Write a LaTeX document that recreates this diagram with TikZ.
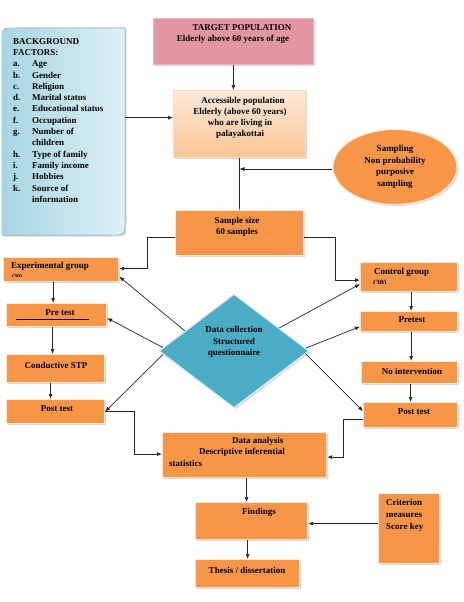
\documentclass[tikz,border=0pt]{standalone}
\usepackage{fontspec}
\setmainfont{Liberation Serif}
\usepackage{tikz}
\usetikzlibrary{shapes.geometric,arrows.meta,positioning,calc,shadows}
\definecolor{boxorange}{RGB}{247,150,70}
\definecolor{boxcream}{RGB}{253,233,217}
\definecolor{diamblue}{RGB}{75,172,198}
\definecolor{bgblue}{RGB}{168,214,229}
\definecolor{bglight}{RGB}{222,240,246}
\definecolor{popred}{RGB}{226,150,162}
\definecolor{poplight}{RGB}{246,212,216}
\definecolor{accpeach}{RGB}{250,196,150}
\newcommand{\bgi}[1]{\makebox[19pt][l]{#1}}

\begin{document}
\begin{tikzpicture}[x=1pt, y=-1pt,
    font=\fontsize{9}{11.5}\selectfont\bfseries,
    sz/.style 2 args={minimum width=#1pt, minimum height=#2pt},
    shade/.style={drop shadow={shadow xshift=1.5pt, shadow yshift=-1.5pt, opacity=0.3}},
    fbox/.style={rectangle, draw=boxcream, line width=1.2pt, fill=boxorange,
        anchor=north west, inner sep=0pt, shade},
    txt/.style={inner sep=0pt, align=center},
    link/.style={line width=0.7pt, draw=black!85},
    >={Latex[length=5pt,width=4pt]}
]
\useasboundingbox (0,0) rectangle (463,602);

% background factors
\node[anchor=north west, sz={123}{207}, inner sep=0pt] (bgfact) at (2,28) {};
\filldraw[draw=bgblue!80!gray, line width=0.8pt, left color=bgblue, right color=bglight, shade]
    (2,235) -- (2,42) .. controls (2,28) .. (16,28) -- (125,28) -- (125,221)
    .. controls (125,235) .. (111,235) -- cycle;
\node[txt, anchor=north west, align=left, font=\fontsize{9}{11.3}\selectfont\bfseries] (bgtext) at (13,38)
    {BACKGROUND\\FACTORS:\\\bgi{a.}Age\\\bgi{b.}Gender\\\bgi{c.}Religion\\\bgi{d.}Marital status\\
     \bgi{e.}Educational status\\\bgi{f.}Occupation\\\bgi{g.}Number of\\\bgi{}children\\
     \bgi{h.}Type of family\\\bgi{i.}Family income\\\bgi{j.}Hobbies\\\bgi{k.}Source of\\\bgi{}information};

% top of the flow
\node[rectangle, anchor=north west, inner sep=0pt, sz={160}{46}, draw=popred!70!white, line width=0.8pt,
      top color=popred, middle color=poplight, bottom color=popred, shade] (target) at (153,18) {};
\node[txt] (targettxt) at (233,34) {\hspace*{18pt}TARGET POPULATION\\Elderly above 60 years of age};

\node[rectangle, anchor=north west, inner sep=0pt, sz={132}{67}, draw=boxorange!35!white, line width=1pt,
      top color=boxcream, bottom color=accpeach, shade] (access) at (173,90) {};
\node[txt, font=\fontsize{9}{11.2}\selectfont\bfseries] (accesstxt) at (240,118)
    {\hspace*{6pt}Accessible population\\Elderly (above 60 years)\\who are living in\\palayakottai};

\node[ellipse, fill=boxorange, draw=boxcream, line width=1.2pt, sz={124}{75}, inner sep=0pt, shade,
      align=center, font=\fontsize{9}{11.5}\selectfont\bfseries] (sampling) at (395,167)
    {Sampling\\Non probability\\purposive\\sampling};

\node[fbox, sz={128}{45}] (sample) at (175,210) {};
\node[txt] (sampletxt) at (237,227) {Sample size\\60 samples};

% experimental arm
\node[fbox, sz={115}{24}] (expgrp) at (3,257) {};
\node[txt, anchor=west] (exptxt) at (11,266) {Experimental group};
\begin{scope}
  \clip (3,257) rectangle (118,276.5);
  \node[txt, anchor=north west, font=\fontsize{6}{7}\selectfont\bfseries] at (12,274) {(30)};
\end{scope}
\node[fbox, sz={100}{23}] (pretest) at (6,303) {};
\node[txt] (pretesttxt) at (60,313) {Pre test};
\draw[line width=0.6pt] (16,319.5) -- (89,319.5);
\node[fbox, sz={98}{28}] (conduct) at (6,354) {};
\node[txt] (conducttxt) at (56,365) {Conductive STP};
\node[fbox, sz={98}{24}] (postl) at (6,399) {};
\node[txt] (postltxt) at (57,409) {Post test};

% control arm
\node[fbox, sz={97}{29}] (ctrlgrp) at (360,262) {};
\node[txt, anchor=west] (ctrltxt) at (374,272) {Control group};
\begin{scope}
  \clip (360,262) rectangle (457,283.5);
  \node[txt, anchor=north west, font=\fontsize{8}{9}\selectfont\bfseries] at (373,280) {(30)};
\end{scope}
\node[fbox, sz={97}{20}] (pretr) at (360,311) {};
\node[txt] (pretrtxt) at (412,320) {Pretest};
\node[fbox, sz={96}{22}] (nointer) at (361,361) {};
\node[txt] (nointertxt) at (412,371) {No intervention};
\node[fbox, sz={94}{25}] (postr) at (363,402) {};
\node[txt] (postrtxt) at (414,412) {Post test};

% data collection
\node[diamond, fill=diamblue, draw=white!80!diamblue, line width=1.2pt, sz={150}{114}, inner sep=0pt, shade]
    (datacol) at (234,351) {};
\node[txt] (datacoltxt) at (234,342) {Data collection\\Structured\\questionnaire};

% analysis and reporting
\node[fbox, sz={164}{45}] (analysis) at (162,432) {};
\node[txt, anchor=north west, align=left] (analysistxt) at (169,437)
    {\hspace*{63pt}Data analysis\\\hspace*{30pt}Descriptive inferential\\statistics};
\node[fbox, sz={112}{37}] (findings) at (195,502) {};
\node[txt] (findingstxt) at (259,512) {Findings};
\node[fbox, sz={104}{28}] (thesis) at (195,559) {};
\node[txt] (thesistxt) at (247,570) {Thesis / dissertation};
\node[fbox, sz={61}{70}] (crit) at (378,493) {};
\node[txt, anchor=north west, align=left, font=\fontsize{9}{11.8}\selectfont\bfseries] (crittxt) at (386,499)
    {Criterion\\measures\\Score key};

% connectors
\draw[link, ->] (target.south) -- (target.south |- access.north);
\draw[link, ->] ([yshift=14pt]bgfact.east) -- ([yshift=14pt]bgfact.east -| access.west);
\draw[link] (access.south) -- (sample.north);
\draw[link, ->] ([yshift=-2pt]sampling.west) -- ([yshift=-2pt]sampling.west -| access.south);
\draw[link, ->] ([yshift=-4pt]sample.west) -- ++(-28,0) |- ([yshift=1pt]expgrp.east);
\draw[link, ->] ([yshift=-4pt]sample.east) -- ++(31,0) |- ([yshift=-3pt]ctrlgrp.west);
\draw[link, ->] ([xshift=-8pt]expgrp.south) -- ([xshift=-8pt]expgrp.south |- pretest.north);
\draw[link, ->] ([xshift=-4pt]pretest.south) -- ([xshift=-4pt]pretest.south |- conduct.north);
\draw[link, ->] ([xshift=-5pt]conduct.south) -- ([xshift=-5pt]conduct.south |- postl.north);
\draw[link, ->] ([xshift=2pt]ctrlgrp.south) -- ([xshift=2pt]ctrlgrp.south |- pretr.north);
\draw[link, ->] ([xshift=2pt]pretr.south) -- ([xshift=2pt]pretr.south |- nointer.north);
\draw[link, ->] ([xshift=1pt]nointer.south) -- ([xshift=1pt]nointer.south |- postr.north);
\draw[link, ->] ($(datacol.west)!0.35!(datacol.north)$) -- ([yshift=-7pt]expgrp.east);
\draw[link, ->] ($(datacol.west)!0.06!(datacol.north)$) -- ([yshift=-3pt]pretest.east);
\draw[link, ->] ($(datacol.west)!0.06!(datacol.south)$) -- (postl.east);
\draw[link, ->] ($(datacol.east)!0.4!(datacol.north)$) -- ([yshift=-7pt]ctrlgrp.west);
\draw[link, ->] ($(datacol.east)!0.05!(datacol.north)$) -- ([yshift=-5pt]pretr.west);
\draw[link, ->] ($(datacol.east)!0.05!(datacol.south)$) -- ([yshift=4pt]postr.west);
\draw[link, ->] (postl.east) -- ++(29,0) |- ([yshift=1pt]analysis.west);
\draw[link, ->] ([yshift=-4pt]postr.west) -- ++(-20,0) |- ([yshift=-2pt]analysis.east);
\draw[link, ->] ([xshift=2pt]analysis.south) -- ([xshift=2pt]analysis.south |- findings.north);
\draw[link, ->] (thesis.north |- findings.south) -- (thesis.north);
\draw[link, ->] ([yshift=5pt]crit.west) -- ([yshift=5pt]crit.west -| findings.east);
\end{tikzpicture}
\end{document}
